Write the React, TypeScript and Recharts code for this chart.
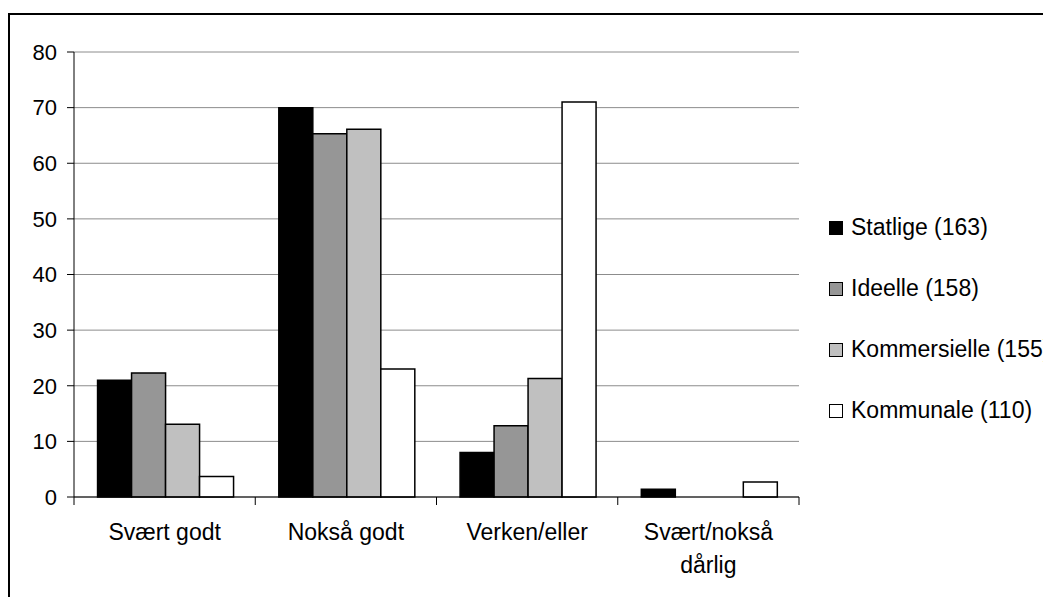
import { Bar, BarChart, CartesianGrid, Legend, XAxis, YAxis } from "recharts"

const categories = ["Svært godt", "Nokså godt", "Verken/eller", "Svært/nokså dårlig"]
const statlige = [21, 70, 8, 1.4]
const ideelle = [22.3, 65.3, 12.8, 0]
const kommersielle = [13.1, 66.1, 21.3, 0]
const kommunale = [3.7, 23, 71, 2.7]
const seriesNames = ["Statlige (163)", "Ideelle (158)", "Kommersielle (155)", "Kommunale (110)"]
const seriesColors = ["#000000", "#969696", "#c0c0c0", "#ffffff"]
const yTicks = [0, 10, 20, 30, 40, 50, 60, 70, 80]

const data = categories.map((name, i) => ({
  name,
  s0: statlige[i],
  s1: ideelle[i],
  s2: kommersielle[i],
  s3: kommunale[i],
}))

const font = "'Liberation Sans', Arial, sans-serif"

// category label + tick marks at the band edges (Excel style)
function CategoryTick(props: any) {
  const { x, y, payload, index, width, visibleTicksCount } = props
  const half = width / (2 * visibleTicksCount)
  const value: string = payload.value
  const cut = value.lastIndexOf(" ")
  const lines = value.length > 14 && cut > 0 ? [value.slice(0, cut), value.slice(cut + 1)] : [value]
  return (
    <g>
      <line x1={x - half} x2={x - half} y1={y} y2={y + 8} stroke="#000" />
      {index === visibleTicksCount - 1 && (
        <line x1={x + half} x2={x + half} y1={y} y2={y + 8} stroke="#000" />
      )}
      <text textAnchor="middle" fontSize={23} fontFamily={font} fill="#000">
        {lines.map((l, i) => (
          <tspan key={i} x={x} y={y + 43 + i * 33}>
            {l}
          </tspan>
        ))}
      </text>
    </g>
  )
}

function LegendBox() {
  return (
    <div style={{ fontFamily: font, fontSize: 23, color: "#000" }}>
      {seriesNames.map((name, i) => (
        <div key={name} style={{ height: 61, display: "flex", alignItems: "center", whiteSpace: "nowrap" }}>
          <span
            style={{
              width: 12,
              height: 12,
              background: seriesColors[i],
              border: "1px solid #000",
              marginRight: 8,
              display: "inline-block",
            }}
          />
          {name}
        </div>
      ))}
    </div>
  )
}

export default function App() {
  return (
    <>
      <style>{`body{overflow:hidden}`}</style>
      <div
        style={{
          marginTop: 5,
          width: 1041,
          height: 582,
          borderLeft: "2px solid #000",
          borderTop: "2px solid #000",
        }}
      >
        <BarChart
          width={1041}
          height={582}
          data={data}
          margin={{ top: 37, right: 252, bottom: 40, left: 14 }}
          barCategoryGap="13%"
          barGap={0}
        >
          <CartesianGrid vertical={false} stroke="#8c8c8c" strokeWidth={1} />
          <XAxis
            dataKey="name"
            height={60}
            axisLine={{ stroke: "#000" }}
            tickLine={false}
            tickSize={0}
            tickMargin={0}
            tick={<CategoryTick />}
            interval={0}
          />
          <YAxis
            domain={[0, 80]}
            ticks={yTicks}
            width={50}
            axisLine={{ stroke: "#000" }}
            tickLine={{ stroke: "#000" }}
            tickSize={7}
            tickMargin={10}
            tick={{ fontSize: 22, fontFamily: font, fill: "#000" }}
          />
          <YAxis
            yAxisId="right"
            orientation="right"
            domain={[0, 80]}
            width={0}
            tick={false}
            axisLine={{ stroke: "#8c8c8c" }}
          />
          <Legend
            layout="vertical"
            align="center"
            verticalAlign="middle"
            content={<LegendBox />}
            wrapperStyle={{ left: 819, top: 182, width: 230 }}
          />
          {seriesNames.map((name, i) => (
            <Bar
              key={name}
              dataKey={`s${i}`}
              name={name}
              fill={seriesColors[i]}
              stroke="#000"
              strokeWidth={1.5}
              isAnimationActive={false}
            />
          ))}
        </BarChart>
      </div>
    </>
  )
}
